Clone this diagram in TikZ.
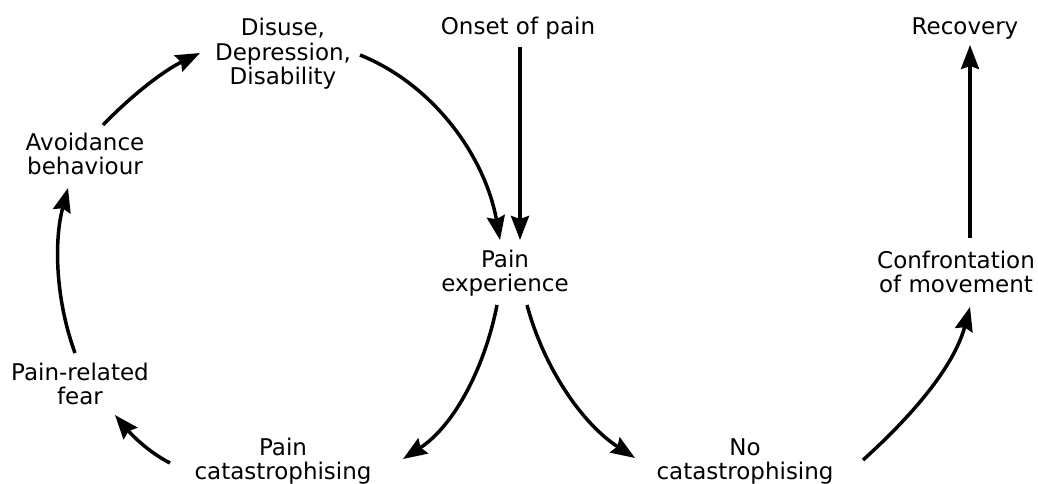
\documentclass[tikz,border=0pt]{standalone}
\usepackage{fontspec}
\setmainfont{DejaVu Sans}
\usetikzlibrary{arrows.meta}
\begin{document}
\begin{tikzpicture}[x=1pt,y=1pt,
  lbl/.style={anchor=base, align=center, inner sep=0pt, font=\fontsize{23}{24.5}\selectfont},
  conn/.style={line width=3.5pt, -{Stealth[length=24pt,width=18pt,inset=3pt]}}]
\useasboundingbox (0,0) rectangle (1038,484);
\node[lbl] (dis)   at (283,399) {Disuse,\\Depression,\\Disability};
\node[lbl] (onset) at (518,449) {Onset of pain};
\node[lbl] (rec)   at (965,449) {Recovery};
\node[lbl] (avoid) at (85,309)  {Avoidance\\behaviour};
\node[lbl] (exp)   at (505,192) {Pain\\experience};
\node[lbl] (conf)  at (956,191) {Confrontation\\of movement};
\node[lbl] (fear)  at (80,79)   {Pain-related\\fear};
\node[lbl] (pcat)  at (283,4)   {Pain\\catastrophising};
\node[lbl] (ncat)  at (745,4)   {No\\catastrophising};

\draw[conn] ([shift={(2,-12)}]onset.base) -- ([shift={(15,52)}]exp.base);
\draw[conn] ([shift={(77,30)}]dis.base) .. controls +(-22:82) and +(100:82) .. ([shift={(-5,52)}]exp.base);
\draw[conn] ([shift={(-8,-13)}]exp.base) .. controls +(-101:62) and +(33:62) .. ([shift={(120,21)}]pcat.base);
\draw[conn] ([shift={(22,-13)}]exp.base) .. controls +(-75:64) and +(147:64) .. ([shift={(-110,22)}]ncat.base);
\draw[conn] ([shift={(118,20)}]ncat.base) .. controls +(42:63) and +(255:63) .. ([shift={(14,-14)}]conf.base);
\draw[conn] ([shift={(14,55)}]conf.base) -- ([shift={(5,-10)}]rec.base);
\draw[conn] ([shift={(-113,17)}]pcat.base) .. controls +(153:25) and +(310:25) .. ([shift={(35,-10)}]fear.base);
\draw[conn] ([shift={(-5,52)}]fear.base) .. controls +(110:56) and +(255:56) .. ([shift={(-17,-13)}]avoid.base);
\draw[conn] ([shift={(18,50)}]avoid.base) .. controls +(46:41) and +(206:41) .. ([shift={(-83,32)}]dis.base);
\end{tikzpicture}
\end{document}
